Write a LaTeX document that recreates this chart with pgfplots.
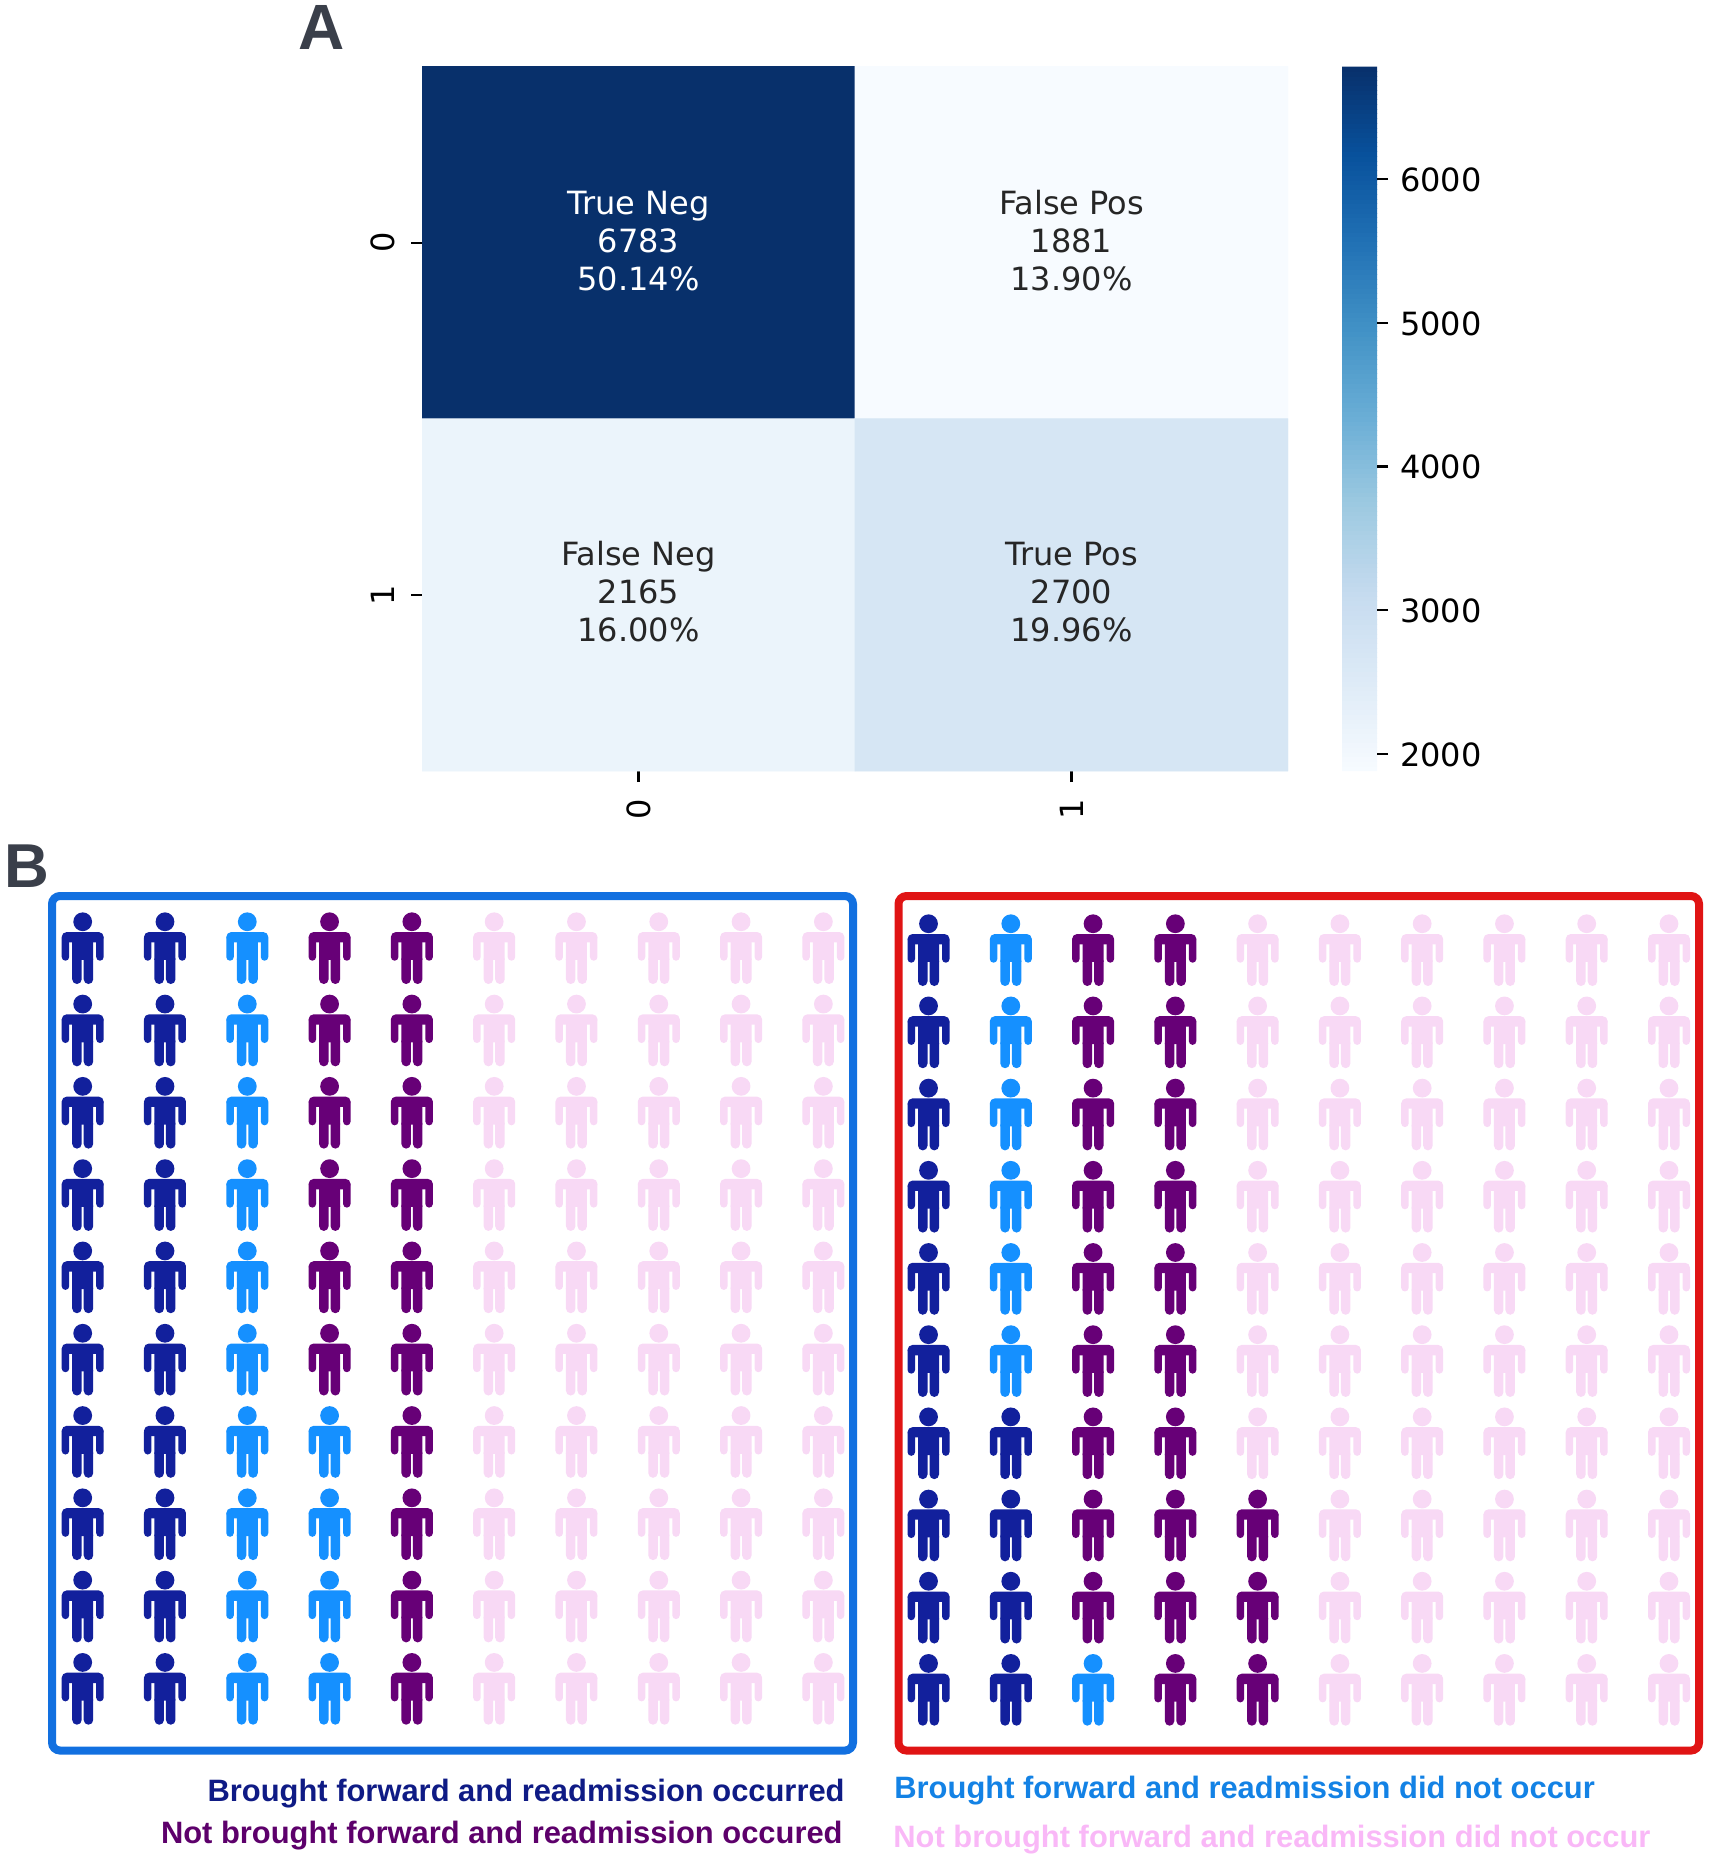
\documentclass[border=0pt]{standalone}
\usepackage{fontspec}
\setmainfont{DejaVu Sans}
\newfontfamily\labelfont{Liberation Sans}
\usepackage{pgfplots}
\pgfplotsset{compat=1.18}

% 1 px of the reference = 0.5pt here
\definecolor{panelgrey}{HTML}{3A3F4A}
\definecolor{celltext}{HTML}{262626}
\definecolor{darkblue}{HTML}{12209C}
\definecolor{lightblue}{HTML}{1590FF}
\definecolor{darkpurple}{HTML}{670077}
\definecolor{palepink}{HTML}{F8D9F5}
\definecolor{bluebox}{HTML}{1270E0}
\definecolor{redbox}{HTML}{E01414}

\tikzset{cellfont/.style={font=\fontsize{16}{19}\selectfont, yshift=0.9pt}}
\pgfplotsset{
  colormap={seabornblues}{rgb255=(247,251,255) rgb255=(222,235,247) rgb255=(198,219,239)
    rgb255=(158,202,225) rgb255=(107,174,214) rgb255=(66,146,198) rgb255=(33,113,181)
    rgb255=(8,81,156) rgb255=(8,48,107)},
  peoplebox/.style={scale only axis, clip=false, y dir=reverse, hide axis},
  person/.style={only marks, mark=person, mark options={draw=none, fill=#1}},
}

\newcommand\prect[5]{%
  \pgfsetcornersarced{\pgfpoint{#5*0.5pt}{#5*0.5pt}}%
  \pgfpathmoveto{\pgfpoint{#1*0.5pt}{#2*0.5pt}}%
  \pgfpathlineto{\pgfpoint{#3*0.5pt}{#2*0.5pt}}%
  \pgfpathlineto{\pgfpoint{#3*0.5pt}{#4*0.5pt}}%
  \pgfpathlineto{\pgfpoint{#1*0.5pt}{#4*0.5pt}}%
  \pgfpathclose
  \pgfusepath{fill}}

\pgfdeclareplotmark{person}{%
  \pgfpathcircle{\pgfpoint{0pt}{26.6*0.5pt}}{4.7pt}%
  \pgfusepath{fill}%
  \prect{-21}{16.35}{21}{6}{5}%
  \prect{-21}{14}{-13.5}{-12.35}{3.7}%
  \prect{13.5}{14}{21}{-12.35}{3.7}%
  \prect{-10.5}{14}{10.5}{-11.6}{0.01}%
  \prect{-10.5}{-6}{-1}{-35.65}{4.7}%
  \prect{1}{-6}{10.5}{-35.65}{4.7}%
}

\begin{document}
\begin{tikzpicture}
\path[use as bounding box] (0pt,0pt) rectangle (856pt,-929pt);

% panel A: confusion matrix
\begin{axis}[
  at={(211pt,-33.25pt)}, anchor=north west,
  scale only axis, width=433pt, height=352.25pt,
  y dir=reverse,
  xmin=-0.5, xmax=1.5, ymin=-0.5, ymax=1.5,
  xtick={0,1}, ytick={0,1},
  xtick pos=bottom, ytick pos=left, tick align=outside,
  major tick length=5.5pt,
  tick style={black, line width=1.1pt},
  axis line style={draw=none},
  /pgf/number format/assume math mode=true,
  ticklabel style={font=\fontsize{16}{19}\selectfont},
  xticklabel style={rotate=90, anchor=east, inner sep=8.2pt},
  yticklabel style={rotate=90, anchor=south, inner sep=8pt},
  colormap name=seabornblues,
  point meta min=1881, point meta max=6783,
  colorbar sampled,
  colorbar shift/.style={xshift=27pt},
  colorbar style={
    samples=150,
    width=17.5pt,
    ytick={2000,3000,4000,5000,6000},
    ytick pos=right, tick align=outside,
    major tick length=5.5pt,
    tick style={black, line width=1.1pt},
    axis line style={draw=none},
    /pgf/number format/1000 sep={},
    /pgf/number format/assume math mode=true,
    yticklabel style={font=\fontsize{16}{19}\selectfont, xshift=2.6pt, yshift=-0.4pt},
  },
]
\addplot[matrix plot*, mesh/cols=2, point meta=explicit] table [meta=z] {
x y z
0 0 6783
1 0 1881
0 1 2165
1 1 2700
};
\node[align=center, white, cellfont] at (axis cs:0,0) {True Neg\\6783\\50.14\%};
\node[align=center, celltext, cellfont] at (axis cs:1,0) {False Pos\\1881\\13.90\%};
\node[align=center, celltext, cellfont, yshift=0.6pt] at (axis cs:0,1) {False Neg\\2165\\16.00\%};
\node[align=center, celltext, cellfont, yshift=0.6pt] at (axis cs:1,1) {True Pos\\2700\\19.96\%};
\end{axis}

% panel B left: readmission occurred
\begin{axis}[
  peoplebox,
  at={(26pt,-448pt)}, anchor=north west,
  width=400.5pt, height=427.25pt,
  xmin=0.627, xmax=10.36, ymin=0.364, ymax=10.747,
]
\addplot[person=darkblue] coordinates {
(1,1)(1,2)(1,3)(1,4)(1,5)(1,6)(1,7)(1,8)(1,9)(1,10)
(2,1)(2,2)(2,3)(2,4)(2,5)(2,6)(2,7)(2,8)(2,9)(2,10)};
\addplot[person=lightblue] coordinates {
(3,1)(3,2)(3,3)(3,4)(3,5)(3,6)(3,7)(3,8)(3,9)(3,10)
(4,7)(4,8)(4,9)(4,10)};
\addplot[person=darkpurple] coordinates {
(4,1)(4,2)(4,3)(4,4)(4,5)(4,6)
(5,1)(5,2)(5,3)(5,4)(5,5)(5,6)(5,7)(5,8)(5,9)(5,10)};
\addplot[person=palepink] coordinates {
(6,1)(6,2)(6,3)(6,4)(6,5)(6,6)(6,7)(6,8)(6,9)(6,10)
(7,1)(7,2)(7,3)(7,4)(7,5)(7,6)(7,7)(7,8)(7,9)(7,10)
(8,1)(8,2)(8,3)(8,4)(8,5)(8,6)(8,7)(8,8)(8,9)(8,10)
(9,1)(9,2)(9,3)(9,4)(9,5)(9,6)(9,7)(9,8)(9,9)(9,10)
(10,1)(10,2)(10,3)(10,4)(10,5)(10,6)(10,7)(10,8)(10,9)(10,10)};
\draw[bluebox, line width=4pt, rounded corners=4pt] (rel axis cs:0,0) rectangle (rel axis cs:1,1);
\end{axis}

% panel B right: readmission did not occur
\begin{axis}[
  peoplebox,
  at={(449.25pt,-448pt)}, anchor=north west,
  width=400.25pt, height=427.25pt,
  xmin=0.635, xmax=10.365, ymin=0.339, ymax=10.736,
]
\addplot[person=darkblue] coordinates {
(1,1)(1,2)(1,3)(1,4)(1,5)(1,6)(1,7)(1,8)(1,9)(1,10)
(2,7)(2,8)(2,9)(2,10)};
\addplot[person=lightblue] coordinates {
(2,1)(2,2)(2,3)(2,4)(2,5)(2,6)(3,10)};
\addplot[person=darkpurple] coordinates {
(3,1)(3,2)(3,3)(3,4)(3,5)(3,6)(3,7)(3,8)(3,9)
(4,1)(4,2)(4,3)(4,4)(4,5)(4,6)(4,7)(4,8)(4,9)(4,10)
(5,8)(5,9)(5,10)};
\addplot[person=palepink] coordinates {
(5,1)(5,2)(5,3)(5,4)(5,5)(5,6)(5,7)
(6,1)(6,2)(6,3)(6,4)(6,5)(6,6)(6,7)(6,8)(6,9)(6,10)
(7,1)(7,2)(7,3)(7,4)(7,5)(7,6)(7,7)(7,8)(7,9)(7,10)
(8,1)(8,2)(8,3)(8,4)(8,5)(8,6)(8,7)(8,8)(8,9)(8,10)
(9,1)(9,2)(9,3)(9,4)(9,5)(9,6)(9,7)(9,8)(9,9)(9,10)
(10,1)(10,2)(10,3)(10,4)(10,5)(10,6)(10,7)(10,8)(10,9)(10,10)};
\draw[redbox, line width=4pt, rounded corners=4pt] (rel axis cs:0,0) rectangle (rel axis cs:1,1);
\end{axis}

% panel letters and key
\node[anchor=base west, inner sep=0pt, panelgrey, font=\fontsize{32}{32}\selectfont\labelfont\bfseries] at (149pt,-24.5pt) {A};
\node[anchor=base west, inner sep=0pt, panelgrey, font=\fontsize{31}{31}\selectfont\labelfont\bfseries] at (2pt,-443.5pt) {B};
\begin{scope}[every node/.style={inner sep=0pt, font=\fontsize{15.45}{15.45}\selectfont\labelfont\bfseries}]
\node[anchor=base east, text=darkblue!85!black] at (422.5pt,-900.5pt) {Brought forward and readmission occurred};
\node[anchor=base east, text=darkpurple!90!black] at (421.5pt,-921.5pt) {Not brought forward and readmission occured};
\node[anchor=base west, text=lightblue!90!black] at (447pt,-899pt) {Brought forward and readmission did not occur};
\node[anchor=base west, text=palepink!85!magenta] at (446.5pt,-923.5pt) {Not brought forward and readmission did not occur};
\end{scope}
\end{tikzpicture}
\end{document}
